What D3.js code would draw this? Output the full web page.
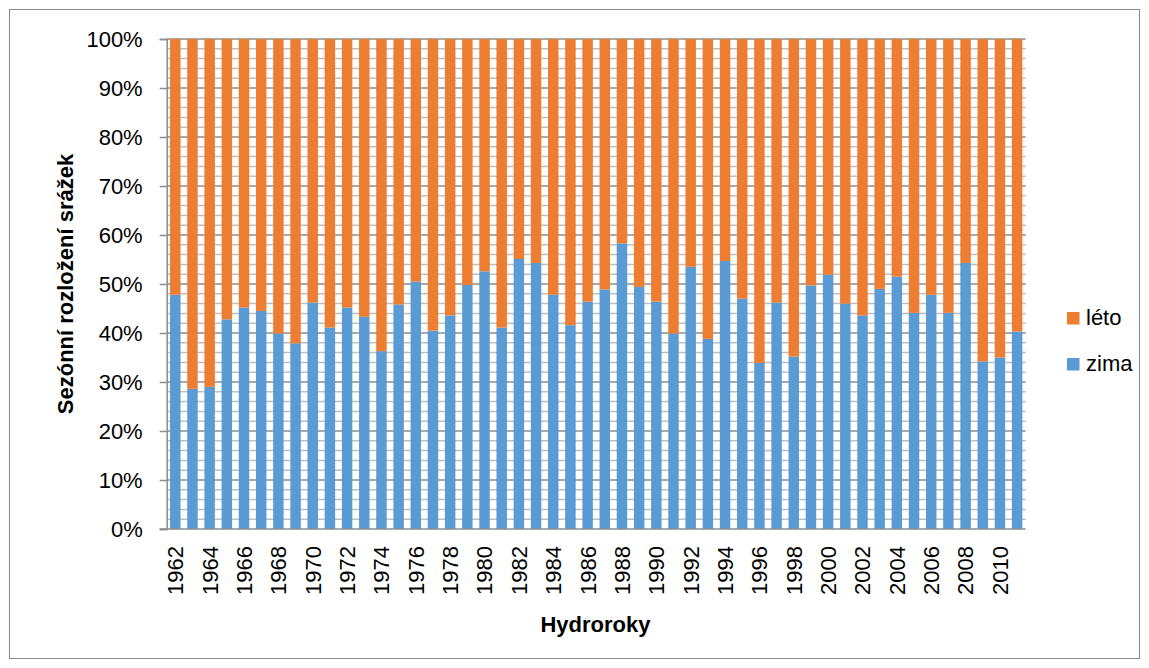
<!DOCTYPE html>
<meta charset="utf-8">
<style>
  body {
    margin: 0;
    background: white;
  }

  svg {
    display: block;
    font-family: "Liberation Sans", Arial, sans-serif;
  }

  .tick text {
    fill: #000;
  }
</style>

<body>
  <svg width="1149" height="668"></svg>
</body>

<script src="https://d3js.org/d3.v7.min.js"></script>
<script>
  var years = [1962, 1963, 1964, 1965, 1966, 1967, 1968, 1969, 1970, 1971,
    1972, 1973, 1974, 1975, 1976, 1977, 1978, 1979, 1980, 1981,
    1982, 1983, 1984, 1985, 1986, 1987, 1988, 1989, 1990, 1991,
    1992, 1993, 1994, 1995, 1996, 1997, 1998, 1999, 2000, 2001,
    2002, 2003, 2004, 2005, 2006, 2007, 2008, 2009, 2010, 2011];

  // podil zimniho polorocni (%)
  var zima = [47.8, 28.6, 29.0, 42.8, 45.2, 44.5, 39.9, 37.9, 46.2, 41.1,
    45.2, 43.3, 36.3, 45.8, 50.5, 40.5, 43.6, 49.8, 52.6, 41.1,
    55.1, 54.3, 47.8, 41.6, 46.4, 48.9, 58.3, 49.4, 46.4, 39.9,
    53.5, 38.8, 54.7, 47.0, 33.9, 46.2, 35.2, 49.7, 51.9, 46.0,
    43.6, 49.0, 51.5, 44.1, 47.8, 44.1, 54.3, 34.2, 35.0, 40.3];

  // podil letniho polorocni (%)
  var leto = [52.2, 71.4, 71.0, 57.2, 54.8, 55.5, 60.1, 62.1, 53.8, 58.9,
    54.8, 56.7, 63.7, 54.2, 49.5, 59.5, 56.4, 50.2, 47.4, 58.9,
    44.9, 45.7, 52.2, 58.4, 53.6, 51.1, 41.7, 50.6, 53.6, 60.1,
    46.5, 61.2, 45.3, 53.0, 66.1, 53.8, 64.8, 50.3, 48.1, 54.0,
    56.4, 51.0, 48.5, 55.9, 52.2, 55.9, 45.7, 65.8, 65.0, 59.7];

  var yTicks = [0, 10, 20, 30, 40, 50, 60, 70, 80, 90, 100];
  var seriesNames = ["zima", "léto"];
  var colors = { "zima": "#5B9BD5", "léto": "#ED7D31" };

  var table = years.map(function(y, i) {
    return { year: y, "zima": zima[i], "léto": leto[i] };
  });

  var svg = d3.select("svg");
  var plotLeft = 166.7, plotRight = 1025.7, plotTop = 39, plotBottom = 529;

  var x = d3.scaleBand()
    .domain(years)
    .range([plotLeft, plotRight])
    .paddingInner(0.39)
    .paddingOuter(0.195);

  var y = d3.scaleLinear()
    .domain([0, 100])
    .range([plotBottom, plotTop]);

  // ramecek grafu
  svg.append("rect")
    .attr("x", 9.5)
    .attr("y", 9.5)
    .attr("width", 1130)
    .attr("height", 649)
    .attr("fill", "none")
    .attr("stroke", "#898989")
    .attr("stroke-width", 1);

  // mrizka - vedlejsi po 2 %
  var minor = d3.range(2, 100, 2).filter(function(v) { return v % 10 != 0; });
  svg.append("g")
    .selectAll("line")
    .data(minor)
    .enter().append("line")
    .attr("x1", plotLeft)
    .attr("x2", plotRight)
    .attr("y1", function(d) { return y(d); })
    .attr("y2", function(d) { return y(d); })
    .attr("stroke", "#bfbfbf")
    .attr("stroke-width", 1.5);

  svg.append("g")
    .selectAll("line")
    .data(yTicks.slice(1))
    .enter().append("line")
    .attr("x1", plotLeft)
    .attr("x2", plotRight)
    .attr("y1", function(d) { return y(d); })
    .attr("y2", function(d) { return y(d); })
    .attr("stroke", "#8c8c8c")
    .attr("stroke-width", 1.5);

  var stack = d3.stack().keys(seriesNames);
  var layers = stack(table);

  svg.append("g")
    .selectAll("g")
    .data(layers)
    .enter().append("g")
    .attr("fill", function(d) { return colors[d.key]; })
    .selectAll("rect")
    .data(function(d) { return d; })
    .enter().append("rect")
    .attr("x", function(d) { return x(d.data.year); })
    .attr("y", function(d) { return y(d[1]); })
    .attr("width", x.bandwidth())
    .attr("height", function(d) { return y(d[0]) - y(d[1]); });

  // osa y
  var yAxis = svg.append("g")
    .attr("transform", "translate(" + plotLeft + ",0)")
    .call(d3.axisLeft(y)
      .tickValues(yTicks)
      .tickSize(7)
      .tickPadding(17)
      .tickFormat(function(d) { return d + "%"; }));
  yAxis.select(".domain").attr("stroke", "#8c8c8c").attr("stroke-width", 1.5);
  yAxis.selectAll(".tick line").attr("stroke", "#8c8c8c").attr("stroke-width", 1.5);
  yAxis.selectAll(".tick text")
    .attr("font-size", "22px")
    .attr("font-family", "Liberation Sans, Arial, sans-serif");

  // osa x
  var xAxis = svg.append("g")
    .attr("transform", "translate(0," + plotBottom + ")")
    .call(d3.axisBottom(x)
      .tickValues(years.filter(function(d) { return d % 2 == 0; }))
      .tickSize(0)
      .tickSizeOuter(0));
  xAxis.select(".domain")
    .attr("d", "M" + (plotLeft - 7) + ",0H" + plotRight)
    .attr("stroke", "#8c8c8c")
    .attr("stroke-width", 1.5);
  xAxis.selectAll(".tick text")
    .attr("font-size", "22px")
    .attr("font-family", "Liberation Sans, Arial, sans-serif")
    .attr("transform", "rotate(-90)")
    .attr("text-anchor", "end")
    .attr("x", -17)
    .attr("y", 0)
    .attr("dy", "0.36em");

  // popisky os
  svg.append("text")
    .attr("transform", "translate(73," + ((plotTop + plotBottom) / 2) + ") rotate(-90)")
    .attr("text-anchor", "middle")
    .attr("font-size", "22px")
    .attr("font-weight", "bold")
    .text("Sezónní rozložení srážek");

  svg.append("text")
    .attr("x", 595.5)
    .attr("y", 632)
    .attr("text-anchor", "middle")
    .attr("font-size", "22px")
    .attr("font-weight", "bold")
    .text("Hydroroky");

  // legenda
  var legend = svg.append("g")
    .selectAll("g")
    .data(["léto", "zima"])
    .enter().append("g")
    .attr("transform", function(d, i) { return "translate(1067," + (312 + i * 46) + ")"; });

  legend.append("rect")
    .attr("width", 12.5)
    .attr("height", 12.5)
    .attr("fill", function(d) { return colors[d]; });

  legend.append("text")
    .attr("x", 19)
    .attr("y", 13)
    .attr("font-size", "22px")
    .text(function(d) { return d; });
</script>
